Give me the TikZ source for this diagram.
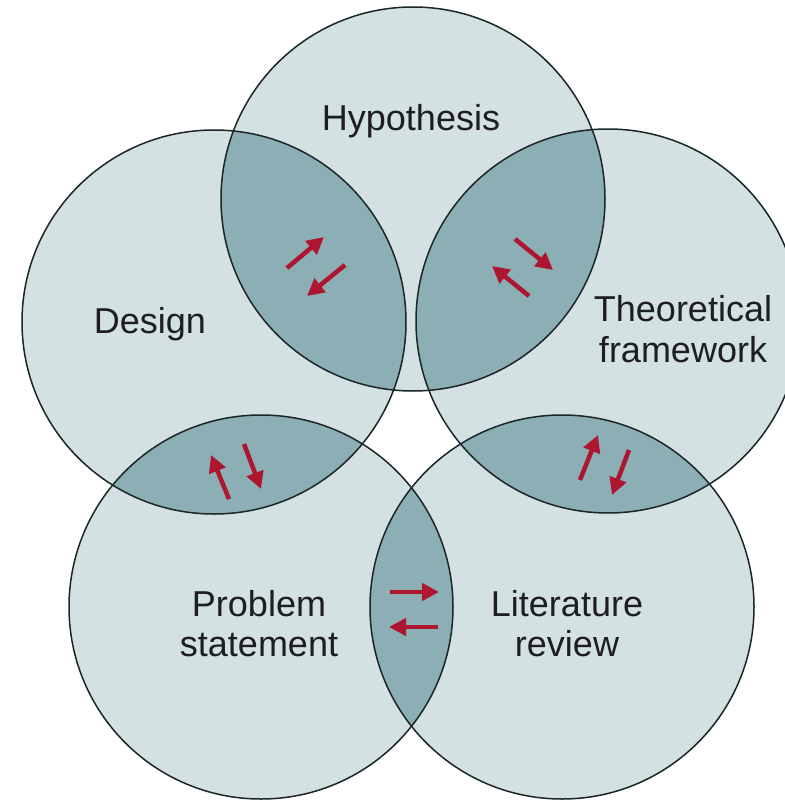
\documentclass[tikz,border=0pt]{standalone}
\usepackage{fontspec}
\setmainfont{Liberation Sans}
\usetikzlibrary{arrows.meta}
\definecolor{ringfill}{HTML}{D3E1E3}
\definecolor{lensfill}{HTML}{8CAEB5}
\definecolor{ringline}{HTML}{1C2626}
\definecolor{arrowred}{HTML}{AE1630}
\definecolor{labeltext}{HTML}{1E1E1E}
\begin{document}
\begin{tikzpicture}[x=1pt,y=-1pt,
  ring/.style={fill=ringfill},
  ringedge/.style={draw=ringline,line width=1.5pt},
  lens/.style={fill=lensfill},
  flow/.style={draw=arrowred,line width=4.5pt,-{Triangle[length=17pt,width=17pt]}},
  label/.style={inner sep=0pt,align=center,text=labeltext,
    font=\fontsize{36}{40.5}\selectfont}]
\useasboundingbox (0,0) rectangle (784,800);

% circle centres
\coordinate (hyp) at (413,199);
\coordinate (des) at (214,322);
\coordinate (the) at (608,321);
\coordinate (pro) at (261,607);
\coordinate (lit) at (562,607);
\def\rr{192pt}

% light discs
\foreach \c in {hyp,des,the,pro,lit}
  \fill[ring] (\c) circle [radius=\rr];

% overlapping lenses
\foreach \a/\b in {hyp/des,hyp/the,des/pro,the/lit,pro/lit}{
  \begin{scope}
    \clip (\a) circle [radius=\rr];
    \fill[lens] (\b) circle [radius=\rr];
  \end{scope}
}

% outlines
\foreach \c in {hyp,des,the,pro,lit}
  \draw[ringedge] (\c) circle [radius=\rr];

% labels
\node[label,anchor=base] (hyplabel) at (411,130) {Hypothesis};
\node[label,anchor=base] (deslabel) at (150,333) {Design};
\node[label] (thelabel) at (683,329) {Theoretical\\framework};
\node[label] (prolabel) at (259,623.5) {Problem\\statement};
\node[label] (litlabel) at (567,623.5) {Literature\\review};

% two-way arrows in each lens
\coordinate (a1s) at (287,268); \coordinate (a1e) at (324,237);
\coordinate (a2s) at (345,265); \coordinate (a2e) at (307,296);
\coordinate (b1s) at (515,239); \coordinate (b1e) at (553,270);
\coordinate (b2s) at (529,296); \coordinate (b2e) at (492,266);
\coordinate (c1s) at (229,499); \coordinate (c1e) at (211,455);
\coordinate (c2s) at (244,444); \coordinate (c2e) at (261,489);
\coordinate (d1s) at (580,480); \coordinate (d1e) at (598,435);
\coordinate (d2s) at (629,450); \coordinate (d2e) at (612,495);
\coordinate (e1s) at (390,592); \coordinate (e1e) at (439,592);
\coordinate (e2s) at (438,627); \coordinate (e2e) at (389,627);
\foreach \p in {a1,a2,b1,b2,c1,c2,d1,d2,e1,e2}
  \draw[flow] (\p s) -- (\p e);
\end{tikzpicture}
\end{document}
